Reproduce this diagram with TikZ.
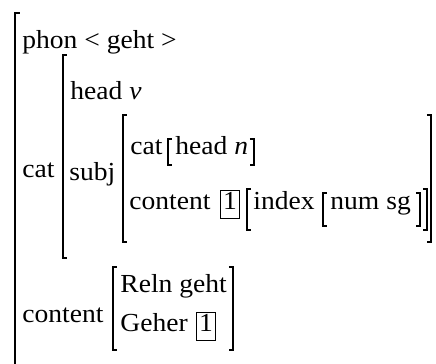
\documentclass[tikz,border=0pt]{standalone}
\usepackage{fontspec}
\setmainfont[FakeStretch=1.06]{Liberation Serif}
\begin{document}
\begin{tikzpicture}[x=0.5pt,y=-0.5pt,
  txt/.style={anchor=base west,inner sep=0pt,font=\fontsize{13}{16}\selectfont},
  tagbox/.style={draw,line width=0.6pt,anchor=base,inner sep=0pt,minimum width=9.5pt,minimum height=14pt,text depth=2.8pt,font=\fontsize{13}{16}\selectfont},
  obrk/.style={line width=1.1pt},
  ibrk/.style={line width=0.8pt}]
\useasboundingbox (0,0) rectangle (436,364);
% outer bracket
\draw[obrk] (20,13) -- (15,13) -- (15,366);
\node[txt] (phon) at (22,48) {phon < geht >};
% cat matrix
\draw[obrk] (67,55) -- (63,55) -- (63,258) -- (67,258);
\node[txt] (cat1) at (22,178) {cat};
\node[txt] (head1) at (70,100) {head \textit{v}};
\node[txt] (subj) at (69,181) {subj};
% subj matrix
\draw[obrk] (127,115) -- (123,115) -- (123,242) -- (127,242);
\draw[obrk] (427,115) -- (431,115) -- (431,242) -- (427,242);
\node[txt] (cat2) at (130,155) {cat};
\draw[ibrk] (172,139) -- (168,139) -- (168,165) -- (172,165);
\node[txt] (head2) at (175,155) {head \textit{n}};
\draw[ibrk] (250,139) -- (254,139) -- (254,165) -- (250,165);
\node[txt] (content2) at (129,210) {content};
\node[tagbox] (t1) at (230,210) {1};
\draw[ibrk] (251,189) -- (247,189) -- (247,230) -- (251,230);
\node[txt] (index) at (253,210) {index};
\draw[ibrk] (327,193) -- (323,193) -- (323,226) -- (327,226);
\node[txt] (num) at (330,210) {num sg};
\draw[ibrk] (416,193) -- (420,193) -- (420,226) -- (416,226);
\draw[ibrk] (423,189) -- (427,189) -- (427,230) -- (423,230);
% content matrix
\node[txt] (content1) at (22,323) {content};
\draw[obrk] (117,267) -- (113,267) -- (113,350) -- (117,350);
\node[txt] (reln) at (120,293) {Reln geht};
\node[txt] (geher) at (120,332) {Geher};
\node[tagbox] (t2) at (206,332) {1};
\draw[obrk] (229,267) -- (233,267) -- (233,350) -- (229,350);
\end{tikzpicture}
\end{document}
